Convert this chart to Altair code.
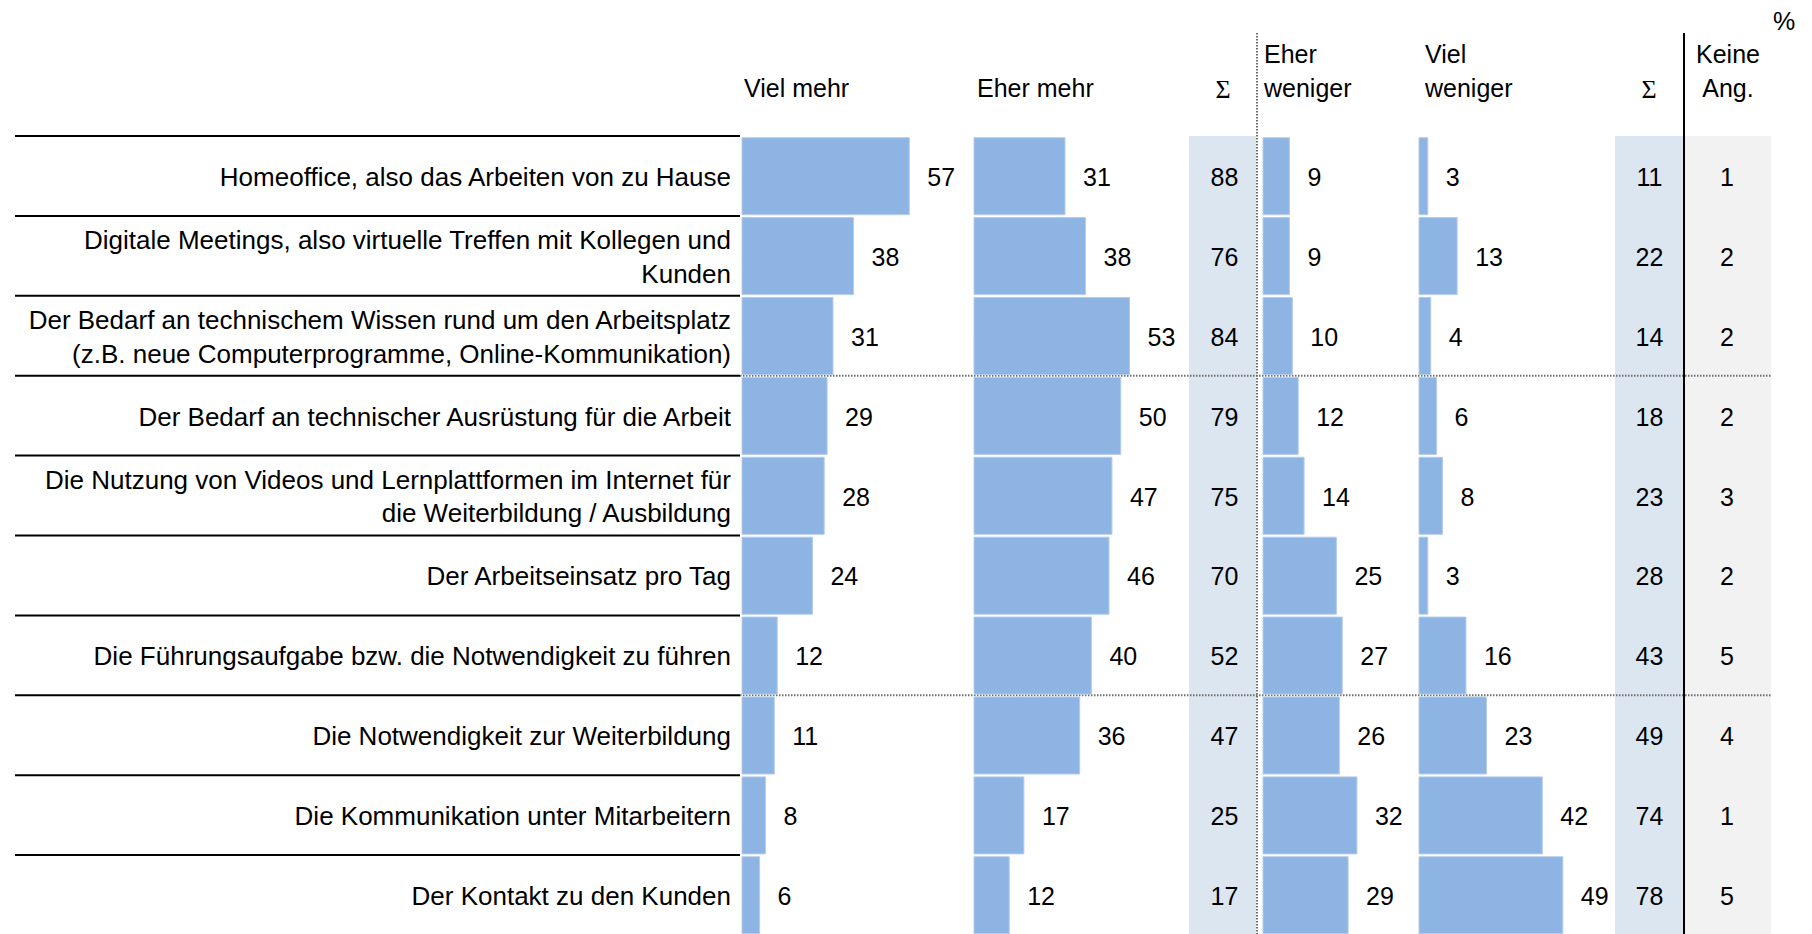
import altair as alt
import pandas as pd

# ---------------- data ----------------
categories = [
    "Homeoffice, also das Arbeiten von zu Hause",
    "Digitale Meetings, also virtuelle Treffen mit Kollegen und\nKunden",
    "Der Bedarf an technischem Wissen rund um den Arbeitsplatz\n(z.B. neue Computerprogramme, Online-Kommunikation)",
    "Der Bedarf an technischer Ausrüstung für die Arbeit",
    "Die Nutzung von Videos und Lernplattformen im Internet für\ndie Weiterbildung / Ausbildung",
    "Der Arbeitseinsatz pro Tag",
    "Die Führungsaufgabe bzw. die Notwendigkeit zu führen",
    "Die Notwendigkeit zur Weiterbildung",
    "Die Kommunikation unter Mitarbeitern",
    "Der Kontakt zu den Kunden",
]
viel_mehr = [57, 38, 31, 29, 28, 24, 12, 11, 8, 6]
eher_mehr = [31, 38, 53, 50, 47, 46, 40, 36, 17, 12]
sum_mehr = [88, 76, 84, 79, 75, 70, 52, 47, 25, 17]
eher_weniger = [9, 9, 10, 12, 14, 25, 27, 26, 32, 29]
viel_weniger = [3, 13, 4, 6, 8, 3, 16, 23, 42, 49]
sum_weniger = [11, 22, 14, 18, 23, 28, 43, 49, 74, 78]
keine_ang = [1, 2, 2, 2, 3, 2, 5, 4, 1, 5]
rows = list(range(len(categories)))

# ---------------- layout ----------------
X0 = 8            # page margin
W = 1796
H = 926
ROW_TOP = 136.0
ROW_H = 79.9
K = 2.935         # px per percent
LINE_H = 33.5
FONT = "Liberation Sans"
BAR = "#8EB4E3"
BAR_EDGE = "#B4CCEB"
SIG_BG = "#DCE6F1"
NA_BG = "#F2F2F2"
DOT = "#6E6E6E"


def r(py):
    return (py - ROW_TOP) / ROW_H


ys = alt.Scale(domain=[r(X0), r(X0 + H)], reverse=True, nice=False, zero=False)


def px(v):
    return v - X0


layers = []

# backgrounds of the sum / no-answer columns
bg_df = pd.DataFrame({
    "x": [px(1189), px(1615), px(1684)],
    "x2": [px(1256), px(1683), px(1771)],
    "y": [0.0, 0.0, 0.0],
    "y2": [10.0, 10.0, 10.0],
    "c": [SIG_BG, SIG_BG, NA_BG],
})
layers.append(
    alt.Chart(bg_df).mark_rect().encode(
        x=alt.X("x:Q", scale=None, axis=None), x2="x2:Q",
        y=alt.Y("y:Q", scale=ys, axis=None), y2="y2:Q",
        color=alt.Color("c:N", scale=None),
    )
)

# dotted group separators across the data columns
sep_df = pd.DataFrame({"row": [3, 7], "x": [px(740)] * 2, "x2": [px(1771)] * 2})
layers.append(
    alt.Chart(sep_df).mark_rule(color=DOT, strokeWidth=2, strokeDash=[1.5, 1.5]).encode(
        x=alt.X("x:Q", scale=None, axis=None), x2="x2:Q",
        y=alt.Y("row:Q", scale=ys, axis=None),
    )
)


def bar_layer(values, start):
    df = pd.DataFrame({"row": rows, "v": values})
    xs = alt.Scale(domain=[(X0 - start) / K, (X0 + W - start) / K], nice=False, zero=False)
    base = alt.Chart(df).transform_calculate(
        t="datum.row + 0.021", b="datum.row + 0.985", m="datum.row + 0.5"
    )
    bars = base.mark_bar(color=BAR, stroke=BAR_EDGE, strokeWidth=1).encode(
        x=alt.X("v:Q", scale=xs, axis=None), x2=alt.datum(0),
        y=alt.Y("t:Q", scale=ys, axis=None), y2="b:Q",
    )
    labels = base.mark_text(align="left", baseline="middle", dx=18, dy=2,
                            fontSize=25, font=FONT, color="#000000").encode(
        x=alt.X("v:Q", scale=xs, axis=None),
        y=alt.Y("m:Q", scale=ys, axis=None),
        text="v:Q",
    )
    return alt.layer(bars, labels)


layers.append(bar_layer(viel_mehr, 742))
layers.append(bar_layer(eher_mehr, 974))
layers.append(bar_layer(eher_weniger, 1263))
layers.append(bar_layer(viel_weniger, 1419))

# black row lines on the label side
line_df = pd.DataFrame({"row": rows, "x": [px(15)] * 10, "x2": [px(740)] * 10})
layers.append(
    alt.Chart(line_df).mark_rule(color="#000000", strokeWidth=2).encode(
        x=alt.X("x:Q", scale=None, axis=None), x2="x2:Q",
        y=alt.Y("row:Q", scale=ys, axis=None),
    )
)

# vertical separators
vdot = pd.DataFrame({"x": [px(1257)], "y": [r(33)], "y2": [10.0]})
layers.append(
    alt.Chart(vdot).mark_rule(color=DOT, strokeWidth=2, strokeDash=[1.5, 1.5]).encode(
        x=alt.X("x:Q", scale=None, axis=None),
        y=alt.Y("y:Q", scale=ys, axis=None), y2="y2:Q",
    )
)
vsol = pd.DataFrame({"x": [px(1684)], "y": [r(33)], "y2": [10.0]})
layers.append(
    alt.Chart(vsol).mark_rule(color="#000000", strokeWidth=2).encode(
        x=alt.X("x:Q", scale=None, axis=None),
        y=alt.Y("y:Q", scale=ys, axis=None), y2="y2:Q",
    )
)

# category labels (multi-line labels centred on their row)
cat_df = pd.DataFrame({
    "row": rows,
    "label": categories,
    "n": [c.count("\n") + 1 for c in categories],
})
shift = LINE_H / 2 / ROW_H
layers.append(
    alt.Chart(cat_df).transform_calculate(
        m=f"datum.row + 0.5 - (datum.n - 1) * {shift}"
    ).mark_text(
        align="right", baseline="middle", lineBreak="\n", lineHeight=LINE_H,
        fontSize=26, font=FONT, color="#000000", dy=2,
    ).encode(
        x=alt.value(px(731)),
        y=alt.Y("m:Q", scale=ys, axis=None),
        text="label:N",
    )
)


def num_col(values, xc):
    df = pd.DataFrame({"row": rows, "v": values})
    return alt.Chart(df).transform_calculate(m="datum.row + 0.5").mark_text(
        align="center", baseline="middle", fontSize=25, font=FONT, color="#000000", dy=2,
    ).encode(
        x=alt.value(px(xc)),
        y=alt.Y("m:Q", scale=ys, axis=None),
        text="v:Q",
    )


layers.append(num_col(sum_mehr, 1224.5))
layers.append(num_col(sum_weniger, 1649.5))
layers.append(num_col(keine_ang, 1727))

# headers
hdr_left = pd.DataFrame({
    "x": [px(744), px(977), px(1264), px(1264), px(1425), px(1425)],
    "y": [px(89), px(89), px(55), px(89), px(55), px(89)],
    "t": ["Viel mehr", "Eher mehr", "Eher", "weniger", "Viel", "weniger"],
})
layers.append(
    alt.Chart(hdr_left).mark_text(align="left", baseline="middle", fontSize=25,
                                  font=FONT, color="#000000").encode(
        x=alt.X("x:Q", scale=None, axis=None),
        y=alt.Y("y:Q", scale=None, axis=None),
        text="t:N",
    )
)
hdr_center = pd.DataFrame({
    "x": [px(1728), px(1728), px(1784)],
    "y": [px(55), px(89), px(22)],
    "t": ["Keine", "Ang.", "%"],
})
layers.append(
    alt.Chart(hdr_center).mark_text(align="center", baseline="middle", fontSize=25,
                                    font=FONT, color="#000000").encode(
        x=alt.X("x:Q", scale=None, axis=None),
        y=alt.Y("y:Q", scale=None, axis=None),
        text="t:N",
    )
)
sig_df = pd.DataFrame({"x": [px(1223), px(1649)], "y": [px(90), px(90)], "t": ["Σ", "Σ"]})
layers.append(
    alt.Chart(sig_df).mark_text(align="center", baseline="middle", fontSize=26,
                                font="Liberation Serif", color="#000000").encode(
        x=alt.X("x:Q", scale=None, axis=None),
        y=alt.Y("y:Q", scale=None, axis=None),
        text="t:N",
    )
)

chart = (
    alt.layer(*layers)
    .resolve_scale(x="independent")
    .properties(width=W, height=H, padding=0, background="white",
                autosize=alt.AutoSizeParams(type="none"))
    .configure_view(stroke=None)
)

chart.save("out.html", embed_options={"renderer": "svg", "actions": False})
